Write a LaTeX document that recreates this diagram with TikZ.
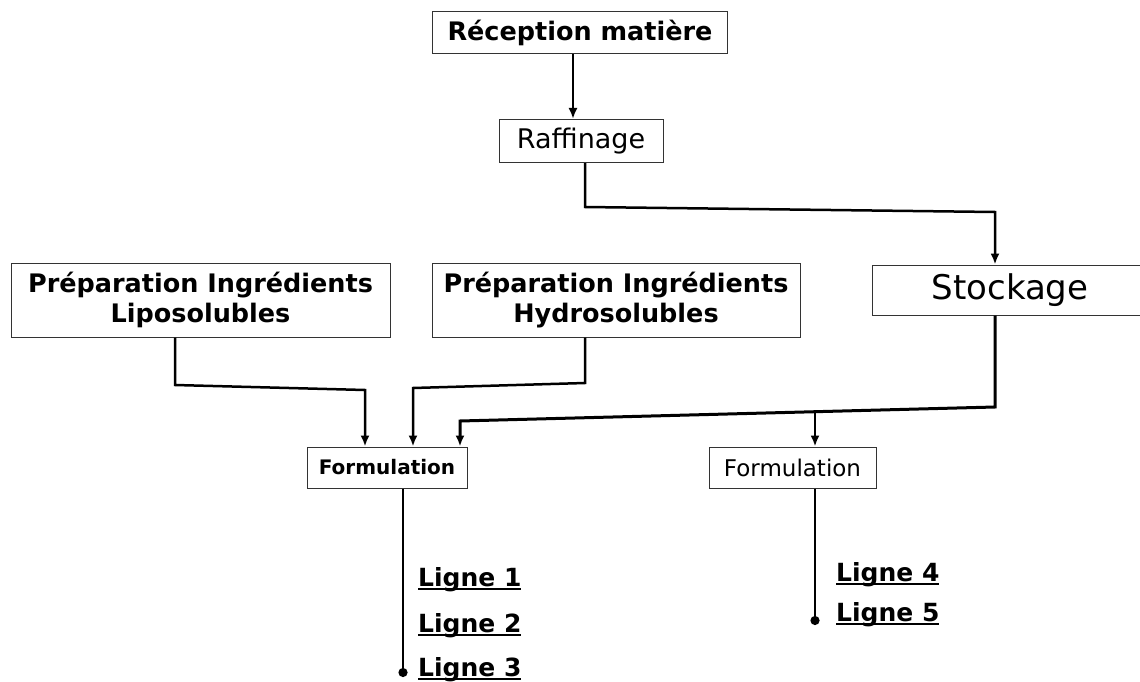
\documentclass[tikz,border=0pt]{standalone}
\usepackage{fontspec}
\setmainfont{DejaVu Sans}
\usetikzlibrary{arrows.meta}

\newcommand{\souligne}[1]{\setbox0=\hbox{#1}\rlap{\rule[-0.16em]{\wd0}{1.8pt}}\box0}

\begin{document}
\begin{tikzpicture}[x=1pt, y=-1pt,
	etape/.style={rectangle, draw=black!80, line width=1pt, inner sep=0pt, align=center, font=\fontsize{25.5}{30}\selectfont\bfseries},
	lien/.style={line width=2.5pt},
	ligne/.style={anchor=base west, inner sep=0pt, font=\fontsize{25}{30}\selectfont\bfseries},
	>={Latex[length=11pt, width=9pt]}
]
\useasboundingbox (0,0) rectangle (1140,682);

\node[etape, minimum width=295, minimum height=42] (recep) at (580,33) {Réception matière};
\node[etape, minimum width=164, minimum height=43, font=\fontsize{27}{30}\selectfont] (raff) at (581,141) {Raffinage};
\node[etape, minimum width=379, minimum height=74] (lipo) at (200.5,300) {Préparation Ingrédients\\Liposolubles};
\node[etape, minimum width=368, minimum height=74] (hydro) at (616,300) {Préparation Ingrédients\\Hydrosolubles};
\node[etape, minimum width=276, minimum height=50, font=\fontsize{34}{40}\selectfont] (stock) at (1010,290) {Stockage};
\node[etape, minimum width=160, minimum height=41, font=\fontsize{20}{24}\selectfont\bfseries] (formA) at (387,467.5) {Formulation};
\node[etape, minimum width=167, minimum height=41, font=\fontsize{23}{28}\selectfont] (formB) at (792.5,467.5) {Formulation};

\coordinate (r1) at (585,207);
\coordinate (r2) at (995,212);
\coordinate (l1) at (175,385);
\coordinate (l2) at (365,390);
\coordinate (h1) at (585,383);
\coordinate (h2) at (413,388);
\coordinate (s1) at (995,407);
\coordinate (s2) at (460,421);
\coordinate (s3) at (815,411);
\coordinate (fin1) at (403,677);
\coordinate (fin2) at (815,625);

\node[ligne] (lg1) at (418,586) {\souligne{Ligne 1}};
\node[ligne] (lg2) at (418,632) {\souligne{Ligne 2}};
\node[ligne] (lg3) at (418,676) {\souligne{Ligne 3}};
\node[ligne] (lg4) at (836,581) {\souligne{Ligne 4}};
\node[ligne] (lg5) at (836,621) {\souligne{Ligne 5}};

\draw[lien, ->] ([xshift=-7]recep.south) -- ([xshift=-8]raff.north);
\draw[lien, ->] (raff.south -| r1) -- (r1) -- (r2) -- (r2 |- stock.north);

\foreach \i/\a/\b in {lipo/l1/l2, hydro/h1/h2}
	\draw[lien, ->] (\i.south -| \a) -- (\a) -- (\b) -- (\b |- formA.north);

\draw[lien, line width=3pt, ->] (stock.south -| s1) -- (s1) -- (s2) -- (s2 |- formA.north);
\draw[lien, ->] (s3) -- (s3 |- formB.north);

\foreach \i/\j in {formA/fin1, formB/fin2}
	\draw[lien, -{Circle[length=9pt]}] (\i.south -| \j) -- (\j);

\end{tikzpicture}
\end{document}
